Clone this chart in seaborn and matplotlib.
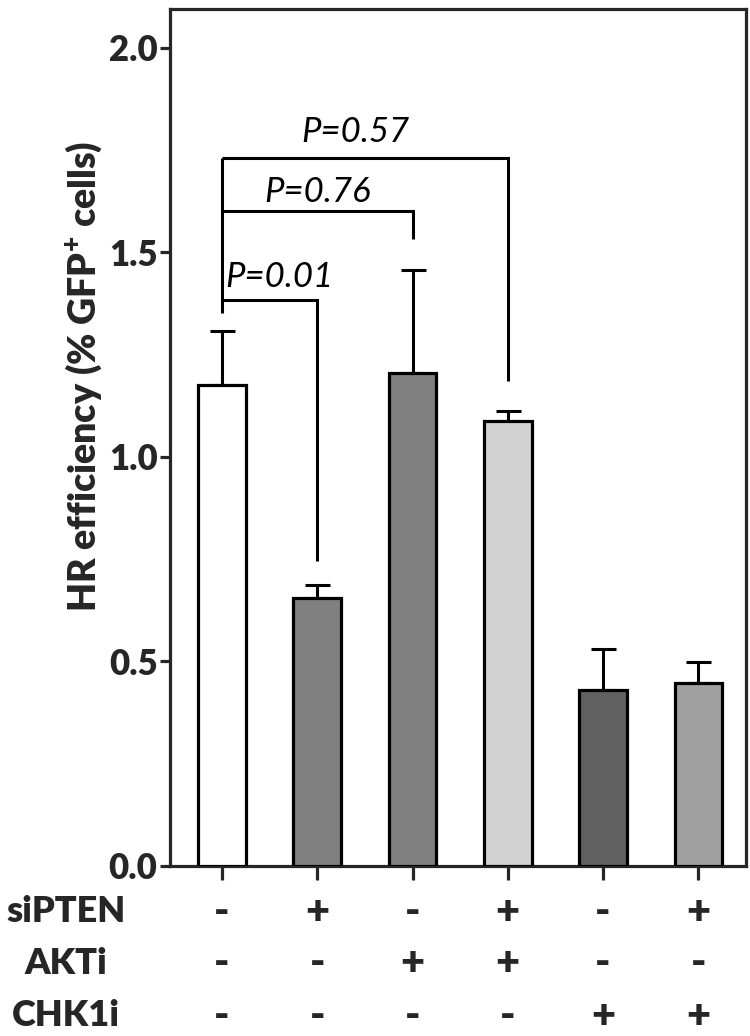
import matplotlib
matplotlib.use("Agg")
import matplotlib.pyplot as plt
import matplotlib.transforms as mtransforms
import seaborn as sns
import pandas as pd

# ---- data ----
conditions = ["c1", "c2", "c3", "c4", "c5", "c6"]
si_pten = ["-", "+", "-", "+", "-", "+"]
akti = ["-", "-", "+", "+", "-", "-"]
chk1i = ["-", "-", "-", "-", "+", "+"]
row_names = ["siPTEN", "AKTi", "CHK1i"]
hr_mean = [1.175, 0.655, 1.205, 1.088, 0.430, 0.447]
hr_err = [0.132, 0.032, 0.252, 0.025, 0.100, 0.052]
bar_colors = ["#ffffff", "#808080", "#808080", "#d3d3d3", "#606060", "#a0a0a0"]
yticks = [0.0, 0.5, 1.0, 1.5, 2.0]
p_labels = ["P=0.01", "P=0.76", "P=0.57"]
p_targets = [1, 2, 3]
bracket_top = [1.384, 1.601, 1.731]
bracket_left_bottom = 1.352
bracket_right_bottom = [0.746, 1.533, 1.186]
p_text_x = [0.60, 1.00, 1.405]
p_text_y = [1.416, 1.624, 1.771]

sns.set_style("ticks")
plt.rcParams["font.family"] = ["Lato", "DejaVu Sans"]
plt.rcParams["mathtext.fontset"] = "custom"
plt.rcParams["mathtext.bf"] = "Lato:heavy"
plt.rcParams["mathtext.rm"] = "Lato:heavy"

W = "heavy"

fig = plt.figure(figsize=(7.5, 10.36), dpi=100)
ax = fig.add_axes([0.2267, 0.1641, 0.9947 - 0.2267, 0.9913 - 0.1641])

df = pd.DataFrame({"cond": conditions, "hr": hr_mean})
sns.barplot(data=df, x="cond", y="hr", hue="cond", palette=bar_colors,
            width=0.5, edgecolor="black", linewidth=2.3, errorbar=None,
            legend=False, ax=ax, zorder=3)

lw = 2.2
# upper-only error bars
ax.errorbar(range(len(conditions)), hr_mean,
            yerr=[[0] * len(hr_err), hr_err], fmt="none", ecolor="black",
            elinewidth=lw, capsize=9, capthick=lw, zorder=2)

# significance brackets
x0 = 0
ax.plot([x0, x0], [bracket_left_bottom, max(bracket_top)], color="black",
        lw=lw, solid_capstyle="butt", zorder=4)
for tgt, top, rb, lab, tx, ty in zip(p_targets, bracket_top, bracket_right_bottom,
                                     p_labels, p_text_x, p_text_y):
    ax.plot([x0, tgt, tgt], [top, top, rb], color="black", lw=lw,
            solid_joinstyle="miter", solid_capstyle="butt", zorder=4)
    ax.text(tx, ty, lab, ha="center", va="baseline", fontsize=25,
            style="italic", color="black")

ax.set_xlim(-0.545, 5.5)
ax.set_ylim(0, 2.095)
ax.set_yticks(yticks)
ax.set_yticklabels([f"{v:.1f}" for v in yticks], fontsize=25, fontweight=W)
ax.set_xticks(range(len(conditions)))
ax.set_xticklabels([])
ax.set_xlabel("")
ax.set_ylabel("")
for s in ax.spines.values():
    s.set_linewidth(2.3)
    s.set_visible(True)
ax.tick_params(axis="y", length=7, width=2.3, pad=2)
ax.tick_params(axis="x", length=10, width=2.3)

fig.text(84 / 750, 0.637, r"HR efficiency (% GFP$^{+}$ cells)", rotation=90,
         ha="center", va="center", fontsize=27, fontweight=W)

# +/- table below the axis
trans = mtransforms.blended_transform_factory(ax.transData, fig.transFigure)
row_y = [(1036 - 912) / 1036, (1036 - 963) / 1036, (1036 - 1016) / 1036]
for name, vals, ry in zip(row_names, [si_pten, akti, chk1i], row_y):
    fig.text(66 / 750, ry, name, ha="center", va="center", fontsize=26,
             fontweight=W)
    for i, v in enumerate(vals):
        ax.text(i, ry, v, transform=trans, ha="center", va="center",
                fontsize=30, fontweight=W)

fig.savefig("out.png", dpi=100)
